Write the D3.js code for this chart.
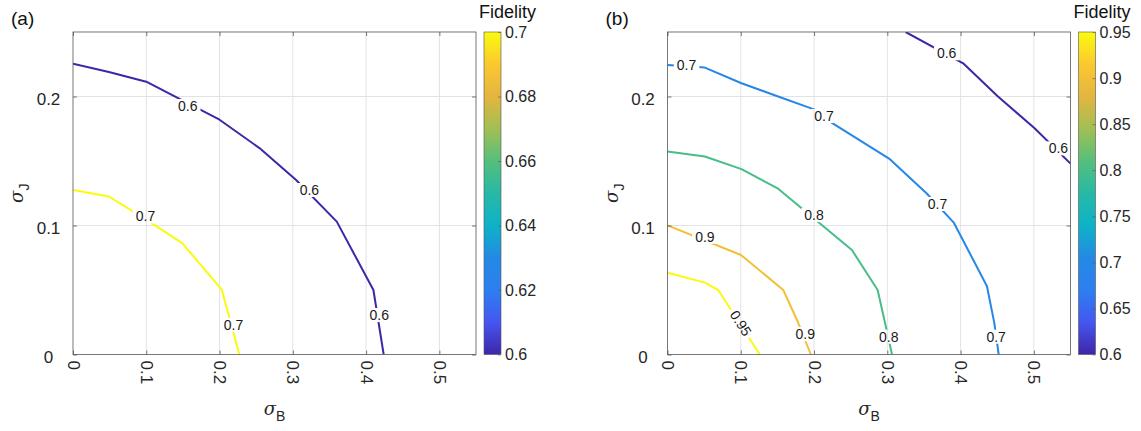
<!DOCTYPE html>
<html>
<head>
<meta charset="utf-8">
<script src="https://cdn.jsdelivr.net/npm/d3@7"></script>
<style>
  body { margin: 0; background: #fff; }
  svg { display: block; }
</style>
</head>
<body>
<svg width="1141" height="431"></svg>
<script>
/* global d3 */

// Axis ticks
const sigmaBTicks = [0, 0.1, 0.2, 0.3, 0.4, 0.5];
const sigmaJTicks = [0, 0.1, 0.2];
const cbTicksA = [0.6, 0.62, 0.64, 0.66, 0.68, 0.7];
const cbTicksB = [0.6, 0.65, 0.7, 0.75, 0.8, 0.85, 0.9, 0.95];

// Contour lines, [sigmaB, sigmaJ]
// panel (a)
const contourA060 = [[0, 0.2255], [0.049, 0.219], [0.1, 0.2115], [0.2, 0.182], [0.2545, 0.16],
  [0.3045, 0.1353], [0.36, 0.103], [0.41, 0.05], [0.424, 0]];
const contourA070 = [[0, 0.1275], [0.049, 0.1225], [0.1, 0.1045], [0.149, 0.0864],
  [0.203, 0.0503], [0.227, 0]];
// panel (b)
const contourB060 = [[0.325, 0.25], [0.4035, 0.2257], [0.451, 0.2], [0.501, 0.1754], [0.55, 0.148]];
const contourB070 = [[0, 0.2245], [0.051, 0.2224], [0.101, 0.2103], [0.151, 0.2], [0.2, 0.19],
  [0.226, 0.179], [0.3035, 0.1514], [0.3535, 0.125], [0.391, 0.102], [0.436, 0.0529],
  [0.446, 0.0245], [0.452, 0]];
const contourB080 = [[0, 0.1574], [0.051, 0.1535], [0.101, 0.1437], [0.151, 0.1285],
  [0.2517, 0.081], [0.2868, 0.05], [0.296, 0.0267], [0.3064, 0]];
const contourB090 = [[0, 0.1001], [0.1003, 0.0771], [0.158, 0.05], [0.1787, 0.0242], [0.1956, 0]];
const contourB095 = [[0, 0.0634], [0.051, 0.0557], [0.0692, 0.05], [0.126, 0]];

// Contour labels: [level, sigmaB, sigmaJ]
const labelsA = [[0.6, 0.1566, 0.1926], [0.6, 0.3226, 0.1275], [0.6, 0.418, 0.0306],
  [0.7, 0.099, 0.107], [0.7, 0.219, 0.0229]];
const labelsB = [[0.6, 0.381, 0.2335], [0.6, 0.5335, 0.1598], [0.7, 0.026, 0.2244],
  [0.7, 0.2135, 0.1849], [0.7, 0.3685, 0.1167], [0.7, 0.4485, 0.0138],
  [0.8, 0.2, 0.1081], [0.8, 0.302, 0.0138], [0.9, 0.051, 0.0913], [0.9, 0.188, 0.0159],
  [0.95, 0.1, 0.0242]];
// labels that follow the line direction
const alongLineLevels = [0.95];

// parula-like colormap
const parulaStops = ['#3e26a8', '#4656f1', '#2d7ff0', '#2589e4', '#0db2c8', '#27b9a6',
  '#55bf7c', '#a2bf53', '#e4b540', '#fbc830', '#f9fb0e'];
const parula = d3.piecewise(d3.interpolateRgb, parulaStops);

const svg = d3.select('svg');
const width = +svg.attr('width');
const height = +svg.attr('height');
const FONT = '"Liberation Sans", Arial, Helvetica, sans-serif';
const TXT = '#262626';
const plotTop = 32;
const plotBottom = 354.5;
const plotW = 403;
const defs = svg.append('defs');

const panels = [
  {
    id: 'a', left: 73, cbDomain: [0.6, 0.7], cbTicks: cbTicksA, labels: labelsA,
    contours: [{ level: 0.6, pts: contourA060 }, { level: 0.7, pts: contourA070 }],
  },
  {
    id: 'b', left: 667.5, cbDomain: [0.6, 0.95], cbTicks: cbTicksB, labels: labelsB,
    contours: [
      { level: 0.6, pts: contourB060 }, { level: 0.7, pts: contourB070 },
      { level: 0.8, pts: contourB080 }, { level: 0.9, pts: contourB090 },
      { level: 0.95, pts: contourB095 },
    ],
  },
];

const fmtAxis = d3.format('.1~f');
const fmtCb = d3.format('.2~f');

function drawPanel(p) {
  const right = p.left + plotW;
  const x = d3.scaleLinear().domain([0, 0.55]).range([p.left, right]);
  const y = d3.scaleLinear().domain([0, 0.25]).range([plotBottom, plotTop]);
  const color = d3.scaleSequential(parula).domain(p.cbDomain);
  const g = svg.append('g');

  // grid
  g.append('g').selectAll('line').data(sigmaBTicks.filter((d) => d > 0)).join('line')
    .attr('x1', (d) => x(d)).attr('x2', (d) => x(d))
    .attr('y1', plotTop).attr('y2', plotBottom)
    .attr('stroke', '#e3e3e3').attr('stroke-width', 1);
  g.append('g').selectAll('line').data(sigmaJTicks.filter((d) => d > 0)).join('line')
    .attr('x1', p.left).attr('x2', right)
    .attr('y1', (d) => y(d)).attr('y2', (d) => y(d))
    .attr('stroke', '#e3e3e3').attr('stroke-width', 1);

  // clip + mask for label gaps
  defs.append('clipPath').attr('id', `clip-${p.id}`)
    .append('rect').attr('x', p.left).attr('y', plotTop)
    .attr('width', plotW).attr('height', plotBottom - plotTop);
  const mask = defs.append('mask').attr('id', `mask-${p.id}`)
    .attr('maskUnits', 'userSpaceOnUse')
    .attr('x', 0).attr('y', 0).attr('width', width).attr('height', height);
  mask.append('rect').attr('width', width).attr('height', height).attr('fill', '#fff');

  const line = d3.line().x((d) => x(d[0])).y((d) => y(d[1]));
  g.append('g')
    .attr('clip-path', `url(#clip-${p.id})`)
    .attr('mask', `url(#mask-${p.id})`)
    .selectAll('path').data(p.contours).join('path')
    .attr('d', (d) => line(d.pts))
    .attr('fill', 'none')
    .attr('stroke', (d) => color(d.level))
    .attr('stroke-width', 2)
    .attr('stroke-linejoin', 'round');

  // contour labels
  const lg = g.append('g');
  p.labels.forEach(([level, sb, sj]) => {
    const cx = x(sb);
    const cy = y(sj);
    let angle = 0;
    if (alongLineLevels.includes(level)) {
      const pts = p.contours.find((c) => c.level === level).pts;
      let seg = pts.length - 2;
      for (let i = 0; i < pts.length - 1; i += 1) {
        if (sb >= pts[i][0] && sb <= pts[i + 1][0]) { seg = i; break; }
      }
      const a = pts[seg];
      const b = pts[seg + 1];
      angle = (Math.atan2(y(b[1]) - y(a[1]), x(b[0]) - x(a[0])) * 180) / Math.PI;
    }
    const t = lg.append('text')
      .attr('transform', `translate(${cx},${cy}) rotate(${angle})`)
      .attr('text-anchor', 'middle')
      .attr('dy', '0.35em')
      .attr('font-family', FONT)
      .attr('font-size', 14)
      .attr('fill', '#1a1a1a')
      .text(String(level));
    const w = t.node().getComputedTextLength();
    mask.append('rect')
      .attr('transform', `translate(${cx},${cy}) rotate(${angle})`)
      .attr('x', -w / 2 - 3).attr('y', -7)
      .attr('width', w + 6).attr('height', 14)
      .attr('fill', '#000');
  });

  // box
  g.append('rect')
    .attr('x', p.left).attr('y', plotTop)
    .attr('width', plotW).attr('height', plotBottom - plotTop)
    .attr('fill', 'none').attr('stroke', '#555').attr('stroke-width', 0.8);

  // axes
  const xAxis = g.append('g')
    .attr('transform', `translate(0,${plotBottom})`)
    .call(d3.axisBottom(x).tickValues(sigmaBTicks).tickSize(-4).tickSizeOuter(0).tickFormat(fmtAxis));
  xAxis.selectAll('text')
    .attr('transform', 'rotate(90)')
    .attr('x', 6).attr('y', 0).attr('dy', '0.35em')
    .attr('text-anchor', 'start');
  g.append('g')
    .attr('transform', `translate(0,${plotTop})`)
    .call(d3.axisTop(x).tickValues(sigmaBTicks).tickSize(-4).tickSizeOuter(0).tickFormat(''));
  const yAxis = g.append('g')
    .attr('transform', `translate(${p.left},0)`)
    .call(d3.axisLeft(y).tickValues(sigmaJTicks).tickSize(-4).tickSizeOuter(0).tickFormat(fmtAxis));
  yAxis.selectAll('text')
    .attr('x', -24.5).attr('dy', '0.45em')
    .attr('text-anchor', 'middle');
  g.append('g')
    .attr('transform', `translate(${right},0)`)
    .call(d3.axisRight(y).tickValues(sigmaJTicks).tickSize(-4).tickSizeOuter(0).tickFormat(''));

  g.selectAll('.domain').remove();
  g.selectAll('.tick line').attr('stroke', '#555').attr('stroke-width', 0.8);
  g.selectAll('.tick text')
    .attr('font-family', FONT).attr('font-size', 17).attr('fill', TXT);

  // axis labels
  const xl = g.append('text')
    .attr('x', (p.left + right) / 2)
    .attr('y', 415)
    .attr('text-anchor', 'middle')
    .attr('fill', TXT);
  xl.append('tspan').attr('font-family', '"DejaVu Serif", serif').attr('font-style', 'italic')
    .attr('font-size', 18).text('σ');
  xl.append('tspan').attr('font-family', FONT).attr('font-size', 14).attr('dy', 6).text('B');

  const yl = g.append('text')
    .attr('transform', `translate(${p.left - 50},${(plotTop + plotBottom) / 2}) rotate(-90)`)
    .attr('text-anchor', 'middle')
    .attr('fill', TXT);
  yl.append('tspan').attr('font-family', '"DejaVu Serif", serif').attr('font-style', 'italic')
    .attr('font-size', 18).text('σ');
  yl.append('tspan').attr('font-family', FONT).attr('font-size', 14).attr('dy', 6).text('J');

  // panel tag
  g.append('text')
    .attr('x', p.left - 62).attr('y', 25)
    .attr('font-family', FONT).attr('font-size', 19).attr('fill', '#111')
    .text(`(${p.id})`);

  // colorbar
  const cbX = right + 8;
  const cbW = 17;
  const grad = defs.append('linearGradient').attr('id', `grad-${p.id}`)
    .attr('x1', 0).attr('y1', 1).attr('x2', 0).attr('y2', 0);
  d3.range(0, 1.0001, 0.05).forEach((t) => {
    grad.append('stop').attr('offset', t).attr('stop-color', parula(t));
  });
  g.append('rect')
    .attr('x', cbX).attr('y', plotTop)
    .attr('width', cbW).attr('height', plotBottom - plotTop)
    .attr('fill', `url(#grad-${p.id})`)
    .attr('stroke', '#555').attr('stroke-width', 0.6);
  const cbScale = d3.scaleLinear().domain(p.cbDomain).range([plotBottom, plotTop]);
  const cbAxis = g.append('g')
    .attr('transform', `translate(${cbX + cbW},0)`)
    .call(d3.axisRight(cbScale).tickValues(p.cbTicks).tickSize(-3).tickSizeOuter(0)
      .tickPadding(4).tickFormat(fmtCb));
  cbAxis.select('.domain').remove();
  cbAxis.selectAll('.tick line').attr('stroke', '#555').attr('stroke-width', 0.6);
  cbAxis.selectAll('text')
    .attr('font-family', FONT).attr('font-size', 16).attr('fill', TXT);

  g.append('text')
    .attr('x', cbX + cbW + 35).attr('y', 17.5)
    .attr('text-anchor', 'end')
    .attr('font-family', FONT).attr('font-size', 18).attr('fill', '#111')
    .text('Fidelity');
}

panels.forEach(drawPanel);
</script>
</body>
</html>
